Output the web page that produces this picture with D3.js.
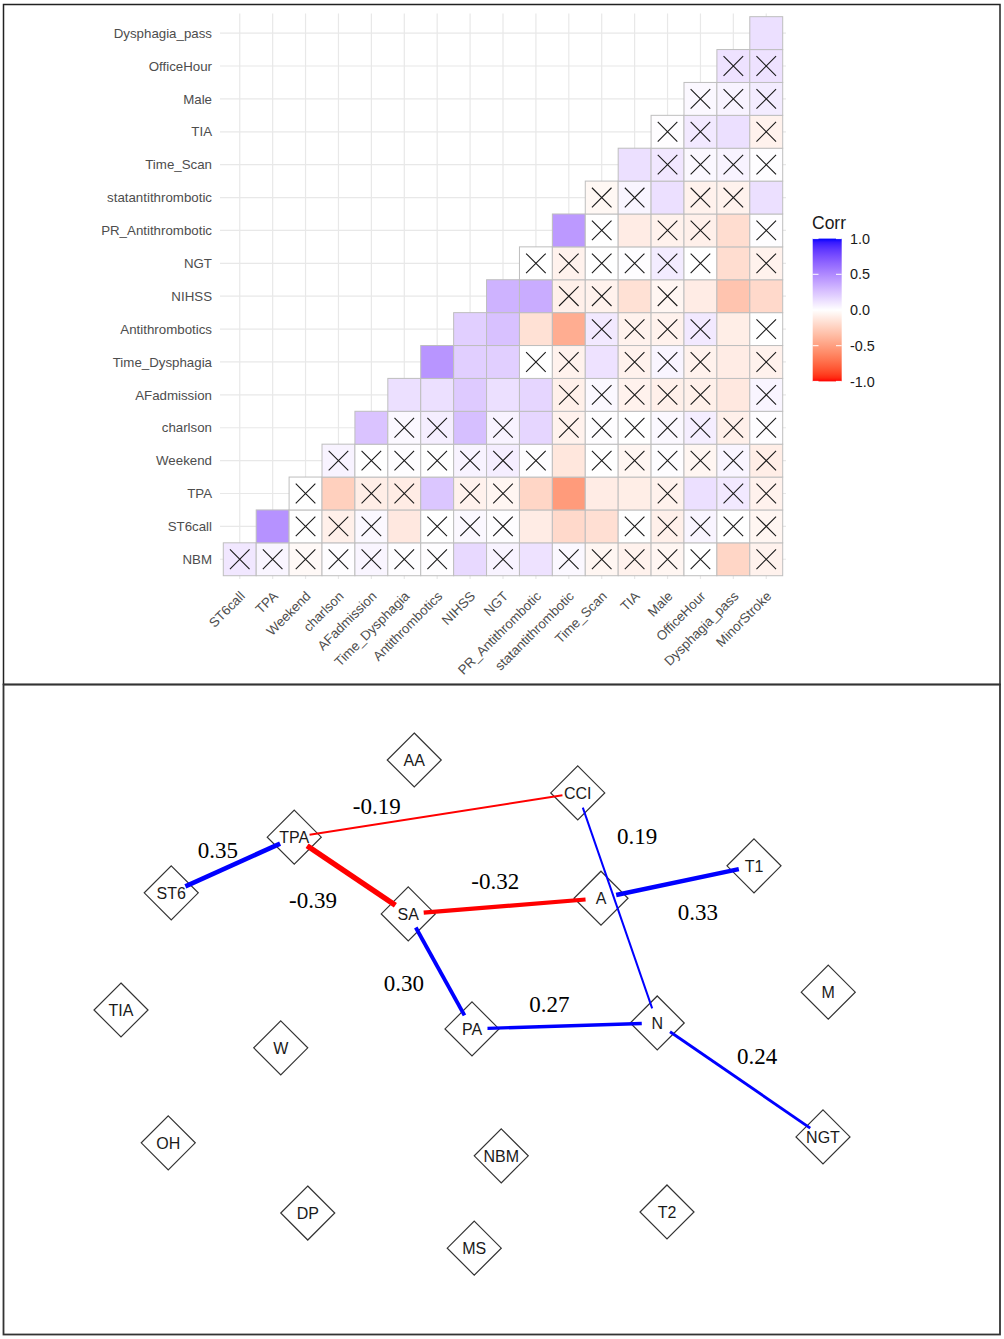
<!DOCTYPE html>
<html>
<head>
<meta charset="utf-8">
<script src="https://cdn.jsdelivr.net/npm/d3@7"></script>
<style>
  body { margin: 0; background: #ffffff; }
  svg { display: block; }
</style>
</head>
<body>
<svg id="chart" width="1004" height="1339"></svg>
<script>
// ---------------- DATA ----------------
// variable order of the correlation matrix
const variables = ["NBM","ST6call","TPA","Weekend","charlson","AFadmission","Time_Dysphagia",
  "Antithrombotics","NIHSS","NGT","PR_Antithrombotic","statantithrombotic","Time_Scan","TIA",
  "Male","OfficeHour","Dysphagia_pass","MinorStroke"];

// correlation of a row variable with every later variable (in the order above)
const corrNBM            = [0.10, 0.04, -0.03, 0.01, 0.04, 0.01, 0.01, 0.16, 0.05, 0.12, 0.03, -0.05, -0.07, -0.05, 0.00, -0.22, -0.07];
const corrST6call        = [0.46, 0.00, -0.08, 0.03, -0.12, 0.00, 0.03, 0.01, -0.10, -0.20, -0.17, 0.00, -0.08, 0.04, 0.00, -0.05];
const corrTPA            = [0.00, -0.25, -0.09, -0.10, 0.24, -0.07, -0.05, -0.22, -0.52, -0.10, -0.09, -0.07, 0.13, 0.09, -0.07];
const corrWeekend        = [0.05, 0.00, 0.01, 0.00, 0.05, 0.07, 0.01, -0.13, 0.00, -0.05, 0.01, -0.05, 0.04, -0.09];
const corrCharlson       = [0.25, 0.03, 0.07, 0.27, 0.05, 0.17, -0.07, 0.01, 0.00, 0.03, 0.07, -0.08, 0.01];
const corrAFadmission    = [0.13, 0.13, 0.22, 0.13, 0.17, -0.08, 0.03, -0.07, -0.08, -0.08, -0.12, 0.04];
const corrTimeDysphagia  = [0.45, 0.20, 0.20, 0.00, -0.07, 0.12, -0.07, 0.04, -0.07, -0.10, -0.07];
const corrAntithrombotics= [0.20, 0.26, -0.16, -0.43, 0.09, -0.07, -0.07, 0.09, -0.09, 0.00];
const corrNIHSS          = [0.32, 0.35, -0.08, -0.07, -0.16, -0.05, -0.10, -0.31, -0.20];
const corrNGT            = [0.00, -0.07, 0.00, 0.01, 0.08, 0.00, -0.18, -0.07];
const corrPRAnti         = [0.43, 0.00, -0.10, -0.07, -0.08, -0.18, 0.01];
const corrStatAnti       = [-0.04, 0.04, 0.13, -0.07, -0.07, 0.13];
const corrTimeScan       = [0.13, 0.10, 0.03, 0.05, 0.01];
const corrTIA            = [0.01, 0.09, 0.13, -0.07];
const corrMale           = [0.03, 0.05, 0.08];
const corrOfficeHour     = [0.12, 0.12];
const corrDysphagiaPass  = [0.13];

// 1 = not significant (crossed out)
const insigNBM            = [1,1,1,1,1,1,1,0,1,0,1,1,1,1,1,0,1];
const insigST6call        = [0,1,1,1,0,1,1,1,0,0,0,1,1,1,1,1];
const insigTPA            = [1,0,1,1,0,1,1,0,0,0,0,1,0,1,1];
const insigWeekend        = [1,1,1,1,1,1,1,0,1,1,1,1,1,1];
const insigCharlson       = [0,1,1,0,1,0,1,1,1,1,1,1,1];
const insigAFadmission    = [0,0,0,0,0,1,1,1,1,1,0,1];
const insigTimeDysphagia  = [0,0,0,1,1,0,1,1,1,0,1];
const insigAntithrombotics= [0,0,0,0,1,1,1,1,0,1];
const insigNIHSS          = [0,0,1,1,0,1,0,0,0];
const insigNGT            = [1,1,1,1,1,1,0,1];
const insigPRAnti         = [0,1,0,1,1,0,1];
const insigStatAnti       = [1,1,0,1,1,0];
const insigTimeScan       = [0,1,1,1,1];
const insigTIA            = [1,1,0,1];
const insigMale           = [1,1,1];
const insigOfficeHour     = [1,1];
const insigDysphagiaPass  = [0];

const corrRows  = [corrNBM, corrST6call, corrTPA, corrWeekend, corrCharlson, corrAFadmission,
  corrTimeDysphagia, corrAntithrombotics, corrNIHSS, corrNGT, corrPRAnti, corrStatAnti,
  corrTimeScan, corrTIA, corrMale, corrOfficeHour, corrDysphagiaPass];
const insigRows = [insigNBM, insigST6call, insigTPA, insigWeekend, insigCharlson, insigAFadmission,
  insigTimeDysphagia, insigAntithrombotics, insigNIHSS, insigNGT, insigPRAnti, insigStatAnti,
  insigTimeScan, insigTIA, insigMale, insigOfficeHour, insigDysphagiaPass];

const legendTicks = [1.0, 0.5, 0.0, -0.5, -1.0];

// network: node names and layout (layout units 0..1)
const nodeNames = ["AA","TPA","ST6","SA","CCI","A","T1","TIA","M","PA","N","W","NGT","OH","NBM","DP","T2","MS"];
const nodeLayoutX = [0.419, 0.259, 0.095, 0.411, 0.637, 0.668, 0.872, 0.028, 0.971, 0.496, 0.743, 0.241, 0.964, 0.091, 0.535, 0.277, 0.756, 0.499];
const nodeLayoutY = [0.037, 0.180, 0.283, 0.322, 0.098, 0.293, 0.233, 0.500, 0.467, 0.535, 0.524, 0.570, 0.735, 0.746, 0.770, 0.876, 0.874, 0.941];

const edgeFrom   = ["ST6","TPA","TPA","SA","CCI","A","SA","PA","N"];
const edgeTo     = ["TPA","CCI","SA","A","N","T1","PA","N","NGT"];
const edgeWeight = [0.35, -0.19, -0.39, -0.32, 0.19, 0.33, 0.30, 0.27, 0.24];
const edgeLabelX = [0.157, 0.369, 0.284, 0.527, 0.716, 0.797, 0.405, 0.599, 0.876];
const edgeLabelY = [0.204, 0.122, 0.296, 0.261, 0.178, 0.319, 0.450, 0.489, 0.585];

// ---------------- DRAW ----------------
const svg = d3.select("#chart");
const fmt = d3.formatLocale({decimal: ".", thousands: ",", grouping: [3], currency: ["", ""], minus: "-"});
const f1 = fmt.format(".1f"), f2 = fmt.format(".2f");

// frames
svg.append("rect").attr("x", 3.5).attr("y", 4.5).attr("width", 996.5).attr("height", 680)
  .attr("fill", "none").attr("stroke", "#222").attr("stroke-width", 1.5);
svg.append("rect").attr("x", 3.5).attr("y", 684.5).attr("width", 996.5).attr("height", 650)
  .attr("fill", "none").attr("stroke", "#333").attr("stroke-width", 1.8);

// ---- heatmap ----
const colVars = variables.slice(1);
const rowVars = variables.slice(0, 17).slice().reverse(); // top -> bottom
const x = d3.scalePoint().domain(colVars).range([220, 786]).padding(0.6);
const y = d3.scalePoint().domain(rowVars).range([13.4, 579]).padding(0.6);
const step = x.step();
const color = d3.scaleLinear().domain([-1, 0, 1]).range(["red", "white", "blue"]).interpolate(d3.interpolateLab);

const cells = [];
corrRows.forEach((vals, i) => {
  vals.forEach((v, k) => {
    cells.push({row: variables[i], col: variables[i + 1 + k], value: v, insig: insigRows[i][k]});
  });
});

const heat = svg.append("g");
// grid lines
heat.selectAll("line.v").data(colVars).join("line")
  .attr("x1", d => x(d)).attr("x2", d => x(d)).attr("y1", 13.4).attr("y2", 579)
  .attr("stroke", "#e8e8e8").attr("stroke-width", 1.2);
heat.selectAll("line.h").data(rowVars).join("line")
  .attr("y1", d => y(d)).attr("y2", d => y(d)).attr("x1", 220).attr("x2", 786)
  .attr("stroke", "#e8e8e8").attr("stroke-width", 1.2);

heat.selectAll("rect.cell").data(cells).join("rect")
  .attr("x", d => x(d.col) - step / 2).attr("y", d => y(d.row) - step / 2)
  .attr("width", step).attr("height", step)
  .attr("fill", d => color(d.value)).attr("stroke", "#bebebe").attr("stroke-width", 1);

const cr = 9.8;
const crossed = cells.filter(d => d.insig);
heat.selectAll("path.cross").data(crossed).join("path")
  .attr("d", d => {
    const cx = x(d.col), cy = y(d.row);
    return `M${cx - cr},${cy - cr}L${cx + cr},${cy + cr}M${cx - cr},${cy + cr}L${cx + cr},${cy - cr}`;
  })
  .attr("stroke", "#1a1a1a").attr("stroke-width", 1.1).attr("fill", "none");

// axis labels
heat.selectAll("text.ylab").data(rowVars).join("text")
  .attr("x", 212).attr("y", d => y(d)).attr("dy", "0.35em")
  .attr("text-anchor", "end").attr("font-family", "Liberation Sans, Arial, sans-serif")
  .attr("font-size", 13.3).attr("fill", "#4d4d4d").text(d => d);
heat.selectAll("text.xlab").data(colVars).join("text")
  .attr("transform", d => `translate(${x(d) + 6},${597}) rotate(-45)`)
  .attr("text-anchor", "end").attr("font-family", "Liberation Sans, Arial, sans-serif")
  .attr("font-size", 13.3).attr("fill", "#4d4d4d").text(d => d);

// legend
const defs = svg.append("defs");
const grad = defs.append("linearGradient").attr("id", "lg").attr("x1", 0).attr("x2", 0).attr("y1", 0).attr("y2", 1);
d3.range(0, 41).forEach(i => {
  const v = 1 - i / 20;
  grad.append("stop").attr("offset", (i / 40 * 100) + "%").attr("stop-color", color(v));
});
const ly = d3.scaleLinear().domain([1, -1]).range([238.6, 381.4]);
svg.append("rect").attr("x", 812.7).attr("y", ly(1)).attr("width", 29).attr("height", ly(-1) - ly(1))
  .attr("fill", "url(#lg)");
svg.append("text").attr("x", 812).attr("y", 229).attr("font-family", "Liberation Sans, Arial, sans-serif")
  .attr("font-size", 17.5).attr("fill", "#1a1a1a").text("Corr");
const lt = svg.append("g");
lt.selectAll("line.tl").data(legendTicks).join("line")
  .attr("x1", 812.7).attr("x2", 818.5).attr("y1", d => ly(d)).attr("y2", d => ly(d))
  .attr("stroke", "white").attr("stroke-width", 1);
lt.selectAll("line.tr").data(legendTicks).join("line")
  .attr("x1", 836).attr("x2", 841.7).attr("y1", d => ly(d)).attr("y2", d => ly(d))
  .attr("stroke", "white").attr("stroke-width", 1);
lt.selectAll("text").data(legendTicks).join("text")
  .attr("x", 850).attr("y", d => ly(d)).attr("dy", "0.36em")
  .attr("font-family", "Liberation Sans, Arial, sans-serif").attr("font-size", 14.4)
  .attr("fill", "#1a1a1a").text(d => f1(d));

// ---- network ----
const nx = d3.scaleLinear().domain([0, 1]).range([100, 850]);
const ny = d3.scaleLinear().domain([0, 1]).range([740, 1280]);
const nodes = nodeNames.map((n, i) => ({name: n, x: nx(nodeLayoutX[i]), y: ny(nodeLayoutY[i])}));
const byName = new Map(nodes.map(d => [d.name, d]));
const edges = edgeFrom.map((s, i) => ({s: byName.get(s), t: byName.get(edgeTo[i]), w: edgeWeight[i],
  lx: nx(edgeLabelX[i]), ly: ny(edgeLabelY[i])}));
const widthScale = d3.scaleLinear().domain([0.19, 0.39]).range([2, 5.4]);

const net = svg.append("g");
const half = 27;
net.selectAll("path.node").data(nodes).join("path")
  .attr("d", d => `M${d.x},${d.y - half}L${d.x + half},${d.y}L${d.x},${d.y + half}L${d.x - half},${d.y}Z`)
  .attr("fill", "white").attr("stroke", "#333").attr("stroke-width", 1.2);

const shorten = 15.5;
net.selectAll("line.edge").data(edges).join("line")
  .each(function(d) {
    const dx = d.t.x - d.s.x, dy = d.t.y - d.s.y, L = Math.hypot(dx, dy);
    const ux = dx / L, uy = dy / L;
    d3.select(this)
      .attr("x1", d.s.x + ux * shorten).attr("y1", d.s.y + uy * shorten)
      .attr("x2", d.t.x - ux * shorten).attr("y2", d.t.y - uy * shorten);
  })
  .attr("stroke", d => d.w > 0 ? "#0000ff" : "#ff0000")
  .attr("stroke-width", d => widthScale(Math.abs(d.w)))
  .attr("stroke-linecap", "butt");

net.selectAll("text.nlab").data(nodes).join("text")
  .attr("x", d => d.x).attr("y", d => d.y).attr("dy", "0.36em")
  .attr("text-anchor", "middle").attr("font-family", "Liberation Sans, Arial, sans-serif")
  .attr("font-size", 16).attr("fill", "#1a1a1a").text(d => d.name);

net.selectAll("text.elab").data(edges).join("text")
  .attr("x", d => d.lx).attr("y", d => d.ly).attr("dy", "0.35em")
  .attr("text-anchor", "middle").attr("font-family", "Liberation Serif, Times New Roman, serif")
  .attr("font-size", 23).attr("fill", "#000").text(d => f2(d.w));
</script>
</body>
</html>
